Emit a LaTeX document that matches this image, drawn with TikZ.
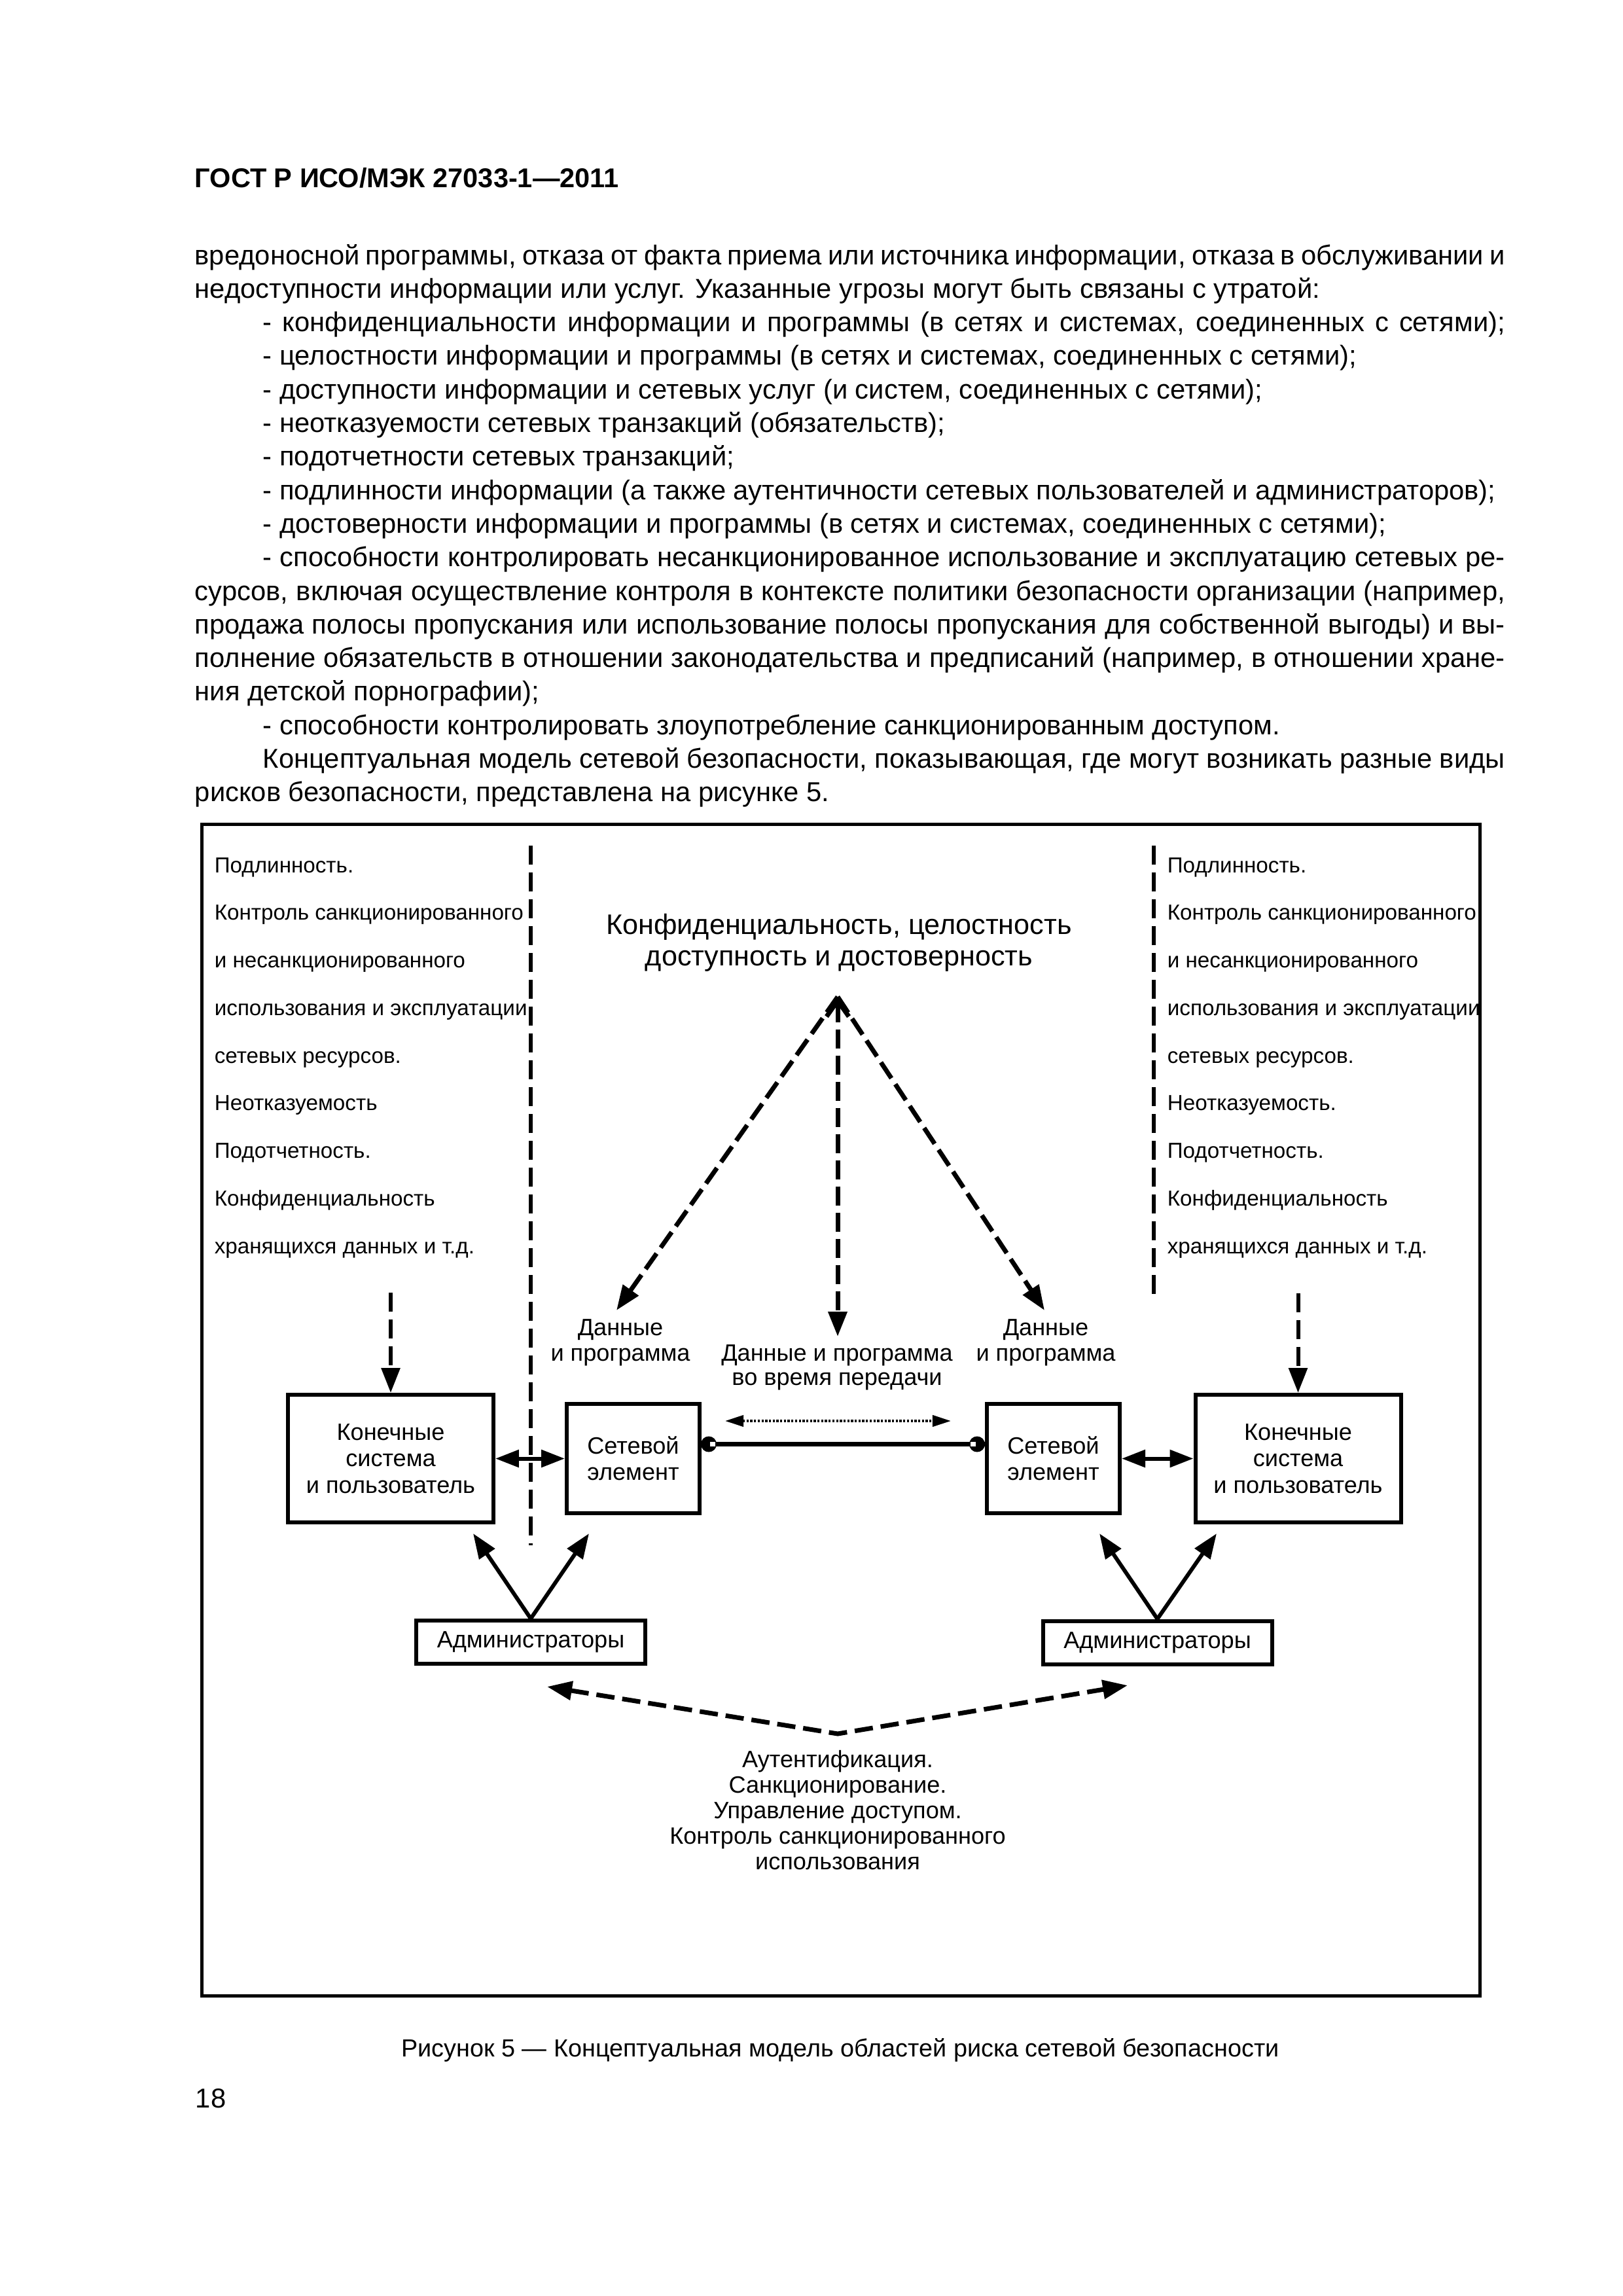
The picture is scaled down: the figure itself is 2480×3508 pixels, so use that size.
\documentclass[tikz,border=0pt]{standalone}
\usepackage{fontspec}
\setmainfont{Liberation Sans}
\usetikzlibrary{arrows.meta}
\newdimen\px \px=0.0846774mm
\newcommand{\fsz}[2]{\fontsize{#1}{#2}\selectfont}
\newcommand{\jline}[2]{\makebox[#1\px][s]{#2}}
\begin{document}
\begin{tikzpicture}[x=0.0846774mm, y=-0.0846774mm,
  txt/.style={anchor=base west, inner sep=0, font=\fsz{10.05}{12}},
  hdr/.style={anchor=base west, inner sep=0, font=\fsz{10}{12}\bfseries},
  coltxt/.style={anchor=base west, inner sep=0, font=\fsz{8.0}{10}},
  lbl/.style={anchor=base, inner sep=0, font=\fsz{8.7}{10}},
  ttl/.style={anchor=base, inner sep=0, font=\fsz{10.4}{12}},
  captxt/.style={anchor=base, inner sep=0, font=\fsz{9.1}{11}},
  frm/.style={draw, line width=5\px},
  boxnode/.style={draw, line width=6\px, inner sep=0, align=center, font=\fsz{8.7}{9.7}},
  sepline/.style={line width=6\px, dash pattern=on 29\px off 12\px},
  dline/.style={line width=7\px, dash pattern=on 29\px off 11\px},
  bdline/.style={line width=7\px, dash pattern=on 28\px off 12\px},
  thk/.style={line width=6\px},
  tri/.style={arrows={-Triangle[length=9.16pt,width=6.75pt]}},
  tritwo/.style={arrows={Triangle[length=8.67pt,width=6.26pt]-Triangle[length=8.67pt,width=6.26pt]}},
  dotarrow/.style={line width=4\px, dash pattern=on 3.3\px off 2.4\px,
     arrows={Triangle[length=6.75pt,width=4.1pt]-Triangle[length=6.75pt,width=4.1pt]}}
]
\fill[white] (0,0) rectangle (2480,3508);
\useasboundingbox (0,0) rectangle (2480,3508);

% ---------- page text ----------
\node[hdr] (hd) at (297,286) {ГОСТ Р ИСО/МЭК 27033-1—2011};
\node[txt] (p0) at (297,404.0) {\jline{2002}{вредоносной программы, отказа от факта приема или источника информации, отказа в обслуживании и}};
\node[txt] (p1) at (297,455.3) {недоступности информации или услуг. Указанные угрозы могут быть связаны с утратой:};
\node[txt] (p2) at (401,506.6) {\jline{1898}{- конфиденциальности информации и программы (в сетях и системах, соединенных с сетями);}};
\node[txt] (p3) at (401,557.9) {- целостности информации и программы (в сетях и системах, соединенных с сетями);};
\node[txt] (p4) at (401,609.2) {- доступности информации и сетевых услуг (и систем, соединенных с сетями);};
\node[txt] (p5) at (401,660.5) {- неотказуемости сетевых транзакций (обязательств);};
\node[txt] (p6) at (401,711.8) {- подотчетности сетевых транзакций;};
\node[txt] (p7) at (401,763.1) {- подлинности информации (а также аутентичности сетевых пользователей и администраторов);};
\node[txt] (p8) at (401,814.4) {- достоверности информации и программы (в сетях и системах, соединенных с сетями);};
\node[txt] (p9) at (401,865.7) {\jline{1898}{- способности контролировать несанкционированное использование и эксплуатацию сетевых ре-}};
\node[txt] (p10) at (297,917.0) {\jline{2002}{сурсов, включая осуществление контроля в контексте политики безопасности организации (например,}};
\node[txt] (p11) at (297,968.3) {\jline{2002}{продажа полосы пропускания или использование полосы пропускания для собственной выгоды) и вы-}};
\node[txt] (p12) at (297,1019.6) {\jline{2002}{полнение обязательств в отношении законодательства и предписаний (например, в отношении хране-}};
\node[txt] (p13) at (297,1070.9) {ния детской порнографии);};
\node[txt] (p14) at (401,1122.2) {- способности контролировать злоупотребление санкционированным доступом.};
\node[txt] (p15) at (401,1173.5) {\jline{1898}{Концептуальная модель сетевой безопасности, показывающая, где могут возникать разные виды}};
\node[txt] (p16) at (297,1224.8) {рисков безопасности, представлена на рисунке 5.};

% ---------- frame ----------
\draw[frm] (308,1259) rectangle (2261,3049);

% ---------- side columns ----------
\foreach \t [count=\i from 0] in {Подлинность., Контроль санкционированного, и несанкционированного, использования и эксплуатации, сетевых ресурсов., Неотказуемость, Подотчетность., Конфиденциальность, хранящихся данных и т.д.}
  \node[coltxt] (lc\i) at (327,1333+72.75*\i) {\t};
\foreach \t [count=\i from 0] in {Подлинность., Контроль санкционированного, и несанкционированного, использования и эксплуатации, сетевых ресурсов., Неотказуемость., Подотчетность., Конфиденциальность, хранящихся данных и т.д.}
  \node[coltxt] (rc\i) at (1783,1333+72.75*\i) {\t};

\coordinate (s1) at (811,1292);
\coordinate (s2) at (811,2361);
\coordinate (s3) at (1763,1292);
\coordinate (s4) at (1763,1986);
\draw[sepline] (s1) -- (s2);
\draw[sepline] (s3) -- (s4);

% ---------- title and triangle ----------
\node[ttl] (t1) at (1282,1427) {Конфиденциальность, целостность};
\node[ttl] (t2) at (1282,1475) {доступность и достоверность};

\coordinate (apex) at (1280,1523);
\coordinate (tipL) at (942,2002);
\coordinate (tipC) at (1280,2042);
\coordinate (tipR) at (1596,2002);
\draw[dline, arrows={Straight Barb[length=5.8pt,width=8.2pt]-Triangle[length=9.16pt,width=6.75pt]}] (apex) -- (tipC);
\draw[dline, tri] (apex) -- (tipL);
\draw[dline, tri] (apex) -- (tipR);

\node[lbl] (dl1) at (948,2040) {Данные};
\node[lbl] (dl2) at (948,2079) {и программа};
\node[lbl] (dc1) at (1279,2079) {Данные и программа};
\node[lbl] (dc2) at (1279,2116) {во время передачи};
\node[lbl] (dr1) at (1598,2040) {Данные};
\node[lbl] (dr2) at (1598,2079) {и программа};

% ---------- boxes ----------
\node[boxnode, minimum width=314\px, minimum height=195\px] (eL) at (597,2228.5) {Конечные\\система\\и пользователь};
\node[boxnode, minimum width=203\px, minimum height=167\px] (nL) at (967.5,2228.5) {Сетевой\\элемент};
\node[boxnode, minimum width=203\px, minimum height=167\px] (nR) at (1609.5,2228.5) {Сетевой\\элемент};
\node[boxnode, minimum width=314\px, minimum height=195\px] (eR) at (1983.5,2228.5) {Конечные\\система\\и пользователь};
\node[boxnode, minimum width=350\px, minimum height=66\px] (aL) at (811,2509) {Администраторы};
\node[boxnode, minimum width=350\px, minimum height=66\px] (aR) at (1768.5,2509.5) {Администраторы};

% dashed arrows into end boxes
\coordinate (qL) at (597,1975);
\coordinate (qR) at (1983.5,1976);
\draw[sepline, tri] (qL) -- (eL.north);
\draw[sepline, tri] (qR) -- (eR.north);

% thick double arrows
\draw[thk, tritwo] (eL.east) -- (nL.west);
\draw[thk, tritwo] (nR.east) -- (eR.west);

% link between network elements
\coordinate (ly) at (0,2206.5);
\draw[line width=7\px] (nL.east |- ly) -- (nR.west |- ly);
\fill (1083,2206.5) circle[radius=12\px];
\fill (1493,2206.5) circle[radius=12\px];
\fill[white] (1085,2203) rectangle (1093,2210);
\fill[white] (1483,2203) rectangle (1491,2210);

% dotted transfer arrow
\coordinate (dA) at (1108,2171);
\coordinate (dB) at (1453,2171);
\draw[dotarrow] (dA) -- (dB);

% admin arrows
\coordinate (aL1) at (723,2343);
\coordinate (aL2) at (900,2343);
\coordinate (aR1) at (1680,2343);
\coordinate (aR2) at (1859,2343);
\draw[thk, tri] (aL.north) -- (aL1);
\draw[thk, tri] (aL.north) -- (aL2);
\draw[thk, tri] (aR.north) -- (aR1);
\draw[thk, tri] (aR.north) -- (aR2);

% bottom V dashed arrow
\coordinate (vL) at (836,2577);
\coordinate (vB) at (1280,2649);
\coordinate (vR) at (1723,2575);
\draw[bdline, arrows={Triangle[length=9.16pt,width=6.75pt]-Triangle[length=9.16pt,width=6.75pt]}] (vL) -- (vB) -- (vR);

\foreach \t [count=\i from 0] in {Аутентификация., Санкционирование., Управление доступом., Контроль санкционированного, использования}
  \node[lbl] (bt\i) at (1280,2700+39.2*\i) {\t};

% ---------- caption and page number ----------
\node[captxt] (cp) at (1284,3142) {Рисунок 5 — Концептуальная модель областей риска сетевой безопасности};
\node[txt] (pg) at (298,3220) {18};
\end{tikzpicture}
\end{document}
